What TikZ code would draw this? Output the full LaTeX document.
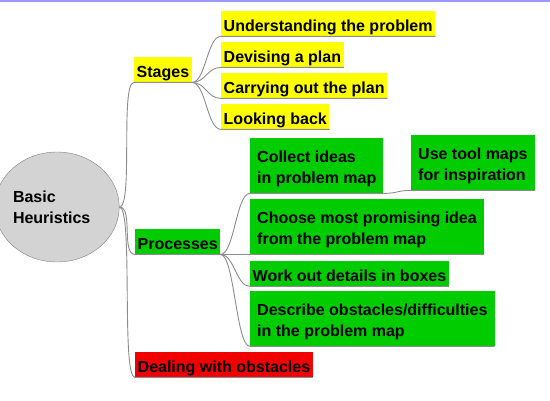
\documentclass[tikz,border=0pt]{standalone}
\usepackage{fontspec}
\setmainfont{Liberation Sans}
\usepackage{tikz}
\usetikzlibrary{shapes.geometric}
\definecolor{stageyellow}{RGB}{255,255,0}
\definecolor{procgreen}{RGB}{0,204,0}
\definecolor{obstred}{RGB}{240,0,0}
\definecolor{rootgray}{RGB}{211,211,211}
\definecolor{linegray}{RGB}{140,140,140}
\definecolor{topblue}{RGB}{153,153,255}

\tikzset{
  mapfont/.style={font=\fontsize{16}{21}\selectfont\bfseries},
  topic/.style={mapfont, anchor=north west, inner xsep=2.5pt, inner ysep=2pt, text height=18pt, text depth=3pt},
  twoline/.style={mapfont, anchor=north west, align=left, inner xsep=7pt, inner ysep=0pt, text height=45pt, text depth=10pt},
  branch/.style={draw=linegray, line width=0.9pt}
}

\begin{document}
\begin{tikzpicture}[x=1pt,y=-1pt]
\useasboundingbox (0,0) rectangle (550,400);
\fill[topblue] (0,0) rectangle (550,1.5);

\node[ellipse, draw=gray, fill=rootgray, minimum width=103pt, minimum height=110pt, inner sep=0pt, align=left, text width=88pt, mapfont] (root) at (57,207) {Basic\\Heuristics};

\node[topic, fill=stageyellow] (stages) at (134,57) {Stages};
\node[topic, fill=stageyellow] (understand) at (221,11) {Understanding the problem};
\node[topic, fill=stageyellow] (devise) at (221,42) {Devising a plan};
\node[topic, fill=stageyellow] (carry) at (221,73) {Carrying out the plan};
\node[topic, fill=stageyellow] (lookback) at (221,104) {Looking back};

\node[topic, fill=procgreen] (processes) at (135,229) {Processes};
\node[twoline, fill=procgreen] (collect) at (250,138) {Collect ideas\\in problem map};
\node[twoline, fill=procgreen] (toolmaps) at (411,135) {Use tool maps\\for inspiration};
\node[twoline, fill=procgreen] (choose) at (250,199) {Choose most promising idea\\from the problem map};
\node[topic, fill=procgreen] (workout) at (250,261) {Work out details in boxes};
\node[twoline, fill=procgreen] (describe) at (250,291) {Describe obstacles/difficulties\\in the problem map};

\node[topic, fill=obstred] (obstacles) at (135,352) {Dealing with obstacles};

\foreach \topnode in {stages,processes,obstacles}
  \draw[branch] (root.east) .. controls +(14,0) and +(-14,0) .. (\topnode.south west) -- (\topnode.south east);
\foreach \child in {understand,devise,carry,lookback}
  \draw[branch] (stages.south east) .. controls +(14,0) and +(-14,0) .. (\child.south west) -- (\child.south east);
\foreach \child in {collect,choose,workout,describe}
  \draw[branch] (processes.south east) .. controls +(14,0) and +(-14,0) .. (\child.south west) -- (\child.south east);
\draw[branch] (collect.south east) .. controls +(14,0) and +(-14,0) .. (toolmaps.south west) -- (toolmaps.south east);
\end{tikzpicture}
\end{document}
